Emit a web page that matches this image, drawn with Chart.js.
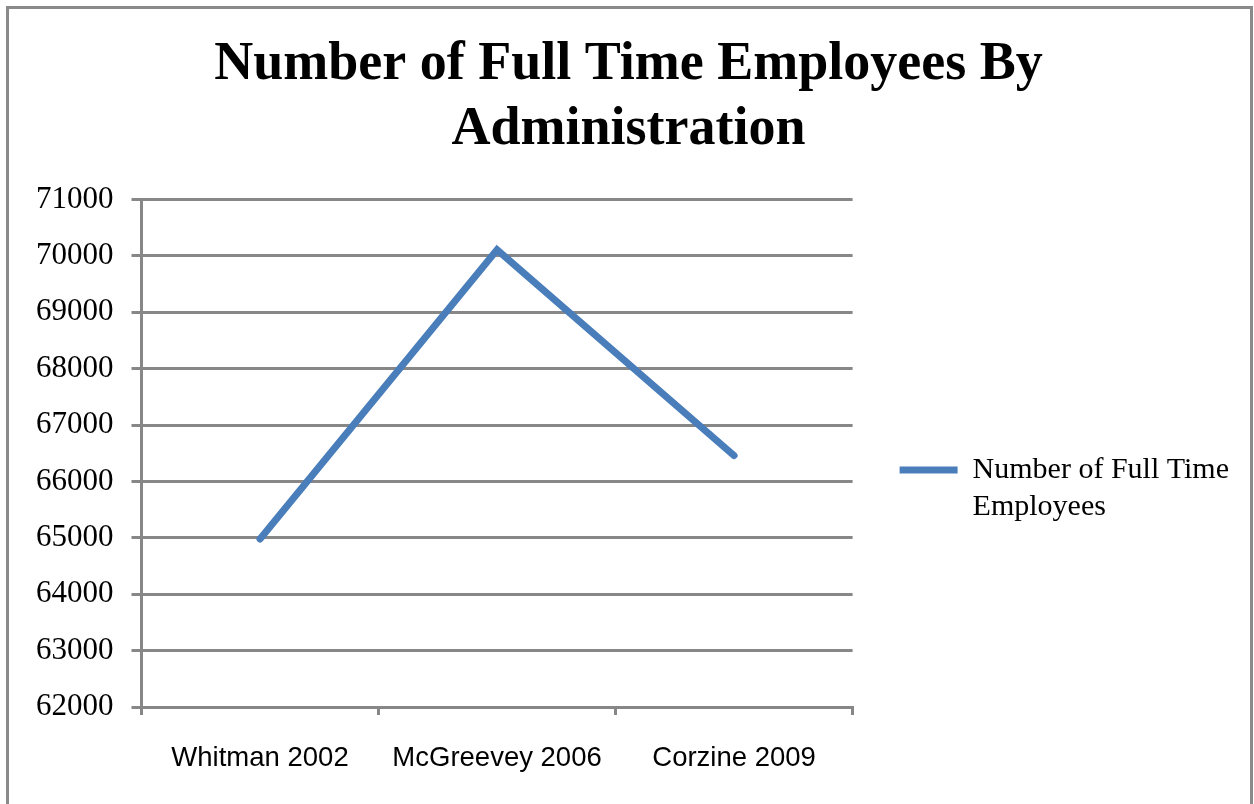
<!DOCTYPE html>
<html>
<head>
<meta charset="utf-8">
<script src="https://cdn.jsdelivr.net/npm/chart.js@4/dist/chart.umd.min.js"></script>
<style>
  html, body { margin: 0; padding: 0; background: #fff; }
  #box { position: relative; width: 1254px; height: 804px; overflow: hidden; }
  #frame { position: absolute; left: 6px; top: 6px; width: 1241px; height: 810px; border: 3px solid #8a8a8a; }
  #wrap { position: absolute; left: 0; top: 0; width: 1254px; height: 804px; }
</style>
</head>
<body>
<div id="box">
  <div id="frame"></div>
  <div id="wrap"><canvas id="chart"></canvas></div>
</div>
<script>
// Daten
const administrations = ['Whitman 2002', 'McGreevey 2006', 'Corzine 2009'];
const employees = [64980, 70110, 66460];
const seriesName = 'Number of Full Time Employees';
const legendLines = ['Number of Full Time', 'Employees'];
const titleLines = ['Number of Full Time Employees By', 'Administration'];

const gray = '#878787';
const blue = '#4a7ebb';

Chart.defaults.font.family = "'Liberation Serif', 'Times New Roman', serif";
Chart.defaults.color = '#000';

const ctx = document.getElementById('chart');
new Chart(ctx, {
    type: 'line',
    data: {
        labels: administrations,
        datasets: [{
            label: seriesName,
            data: employees,
            borderColor: blue,
            backgroundColor: blue,
            borderWidth: 7,
            borderCapStyle: 'round',
            borderJoinStyle: 'miter',
            pointRadius: 0,
            tension: 0
        }]
    },
    options: {
        responsive: true,
        maintainAspectRatio: false,
        animation: false,
        layout: {
            padding: { left: 18, right: 15, top: 33, bottom: 2 }
        },
        plugins: {
            title: {
                display: true,
                text: titleLines,
                font: { size: 54, weight: 'bold', lineHeight: 1.2 },
                color: '#000',
                padding: { top: 0, bottom: 37 }
            },
            legend: {
                position: 'right',
                align: 'start',
                maxWidth: 387,
                title: {
                    // leerer Titel nur als Abstand nach oben
                    display: true,
                    text: ' ',
                    color: 'rgba(0,0,0,0)',
                    font: { size: 10, lineHeight: 1 },
                    padding: { top: 0, bottom: 365 }
                },
                labels: {
                    usePointStyle: true,
                    pointStyle: 'line',
                    pointStyleWidth: 58,
                    boxWidth: 58,
                    boxHeight: 30,
                    padding: 47,
                    font: { size: 30, lineHeight: 1.25 },
                    color: '#000',
                    // Legendentext in zwei Zeilen umbrechen
                    generateLabels: function(chart) {
                        const items = Chart.defaults.plugins.legend.labels.generateLabels(chart);
                        items.forEach(function(it) {
                            it.text = legendLines;
                            it.lineWidth = 7;
                            it.strokeStyle = blue;
                        });
                        return items;
                    }
                }
            },
            tooltip: { enabled: false }
        },
        scales: {
            x: {
                offset: true,
                grid: {
                    offset: true,
                    drawOnChartArea: false,
                    drawTicks: true,
                    tickLength: 8,
                    color: gray,
                    lineWidth: 3
                },
                border: { color: gray, width: 3 },
                ticks: {
                    padding: 27,
                    font: { family: "'Liberation Sans', Arial, sans-serif", size: 27.5 },
                    color: '#000'
                }
            },
            y: {
                min: 62000,
                max: 71000,
                grid: {
                    color: gray,
                    lineWidth: 3,
                    tickLength: 10
                },
                border: { color: gray, width: 3 },
                ticks: {
                    stepSize: 1000,
                    padding: 18,
                    font: { size: 31 },
                    color: '#000',
                    callback: function(v) { return String(v); }
                }
            }
        }
    }
});
</script>
</body>
</html>
